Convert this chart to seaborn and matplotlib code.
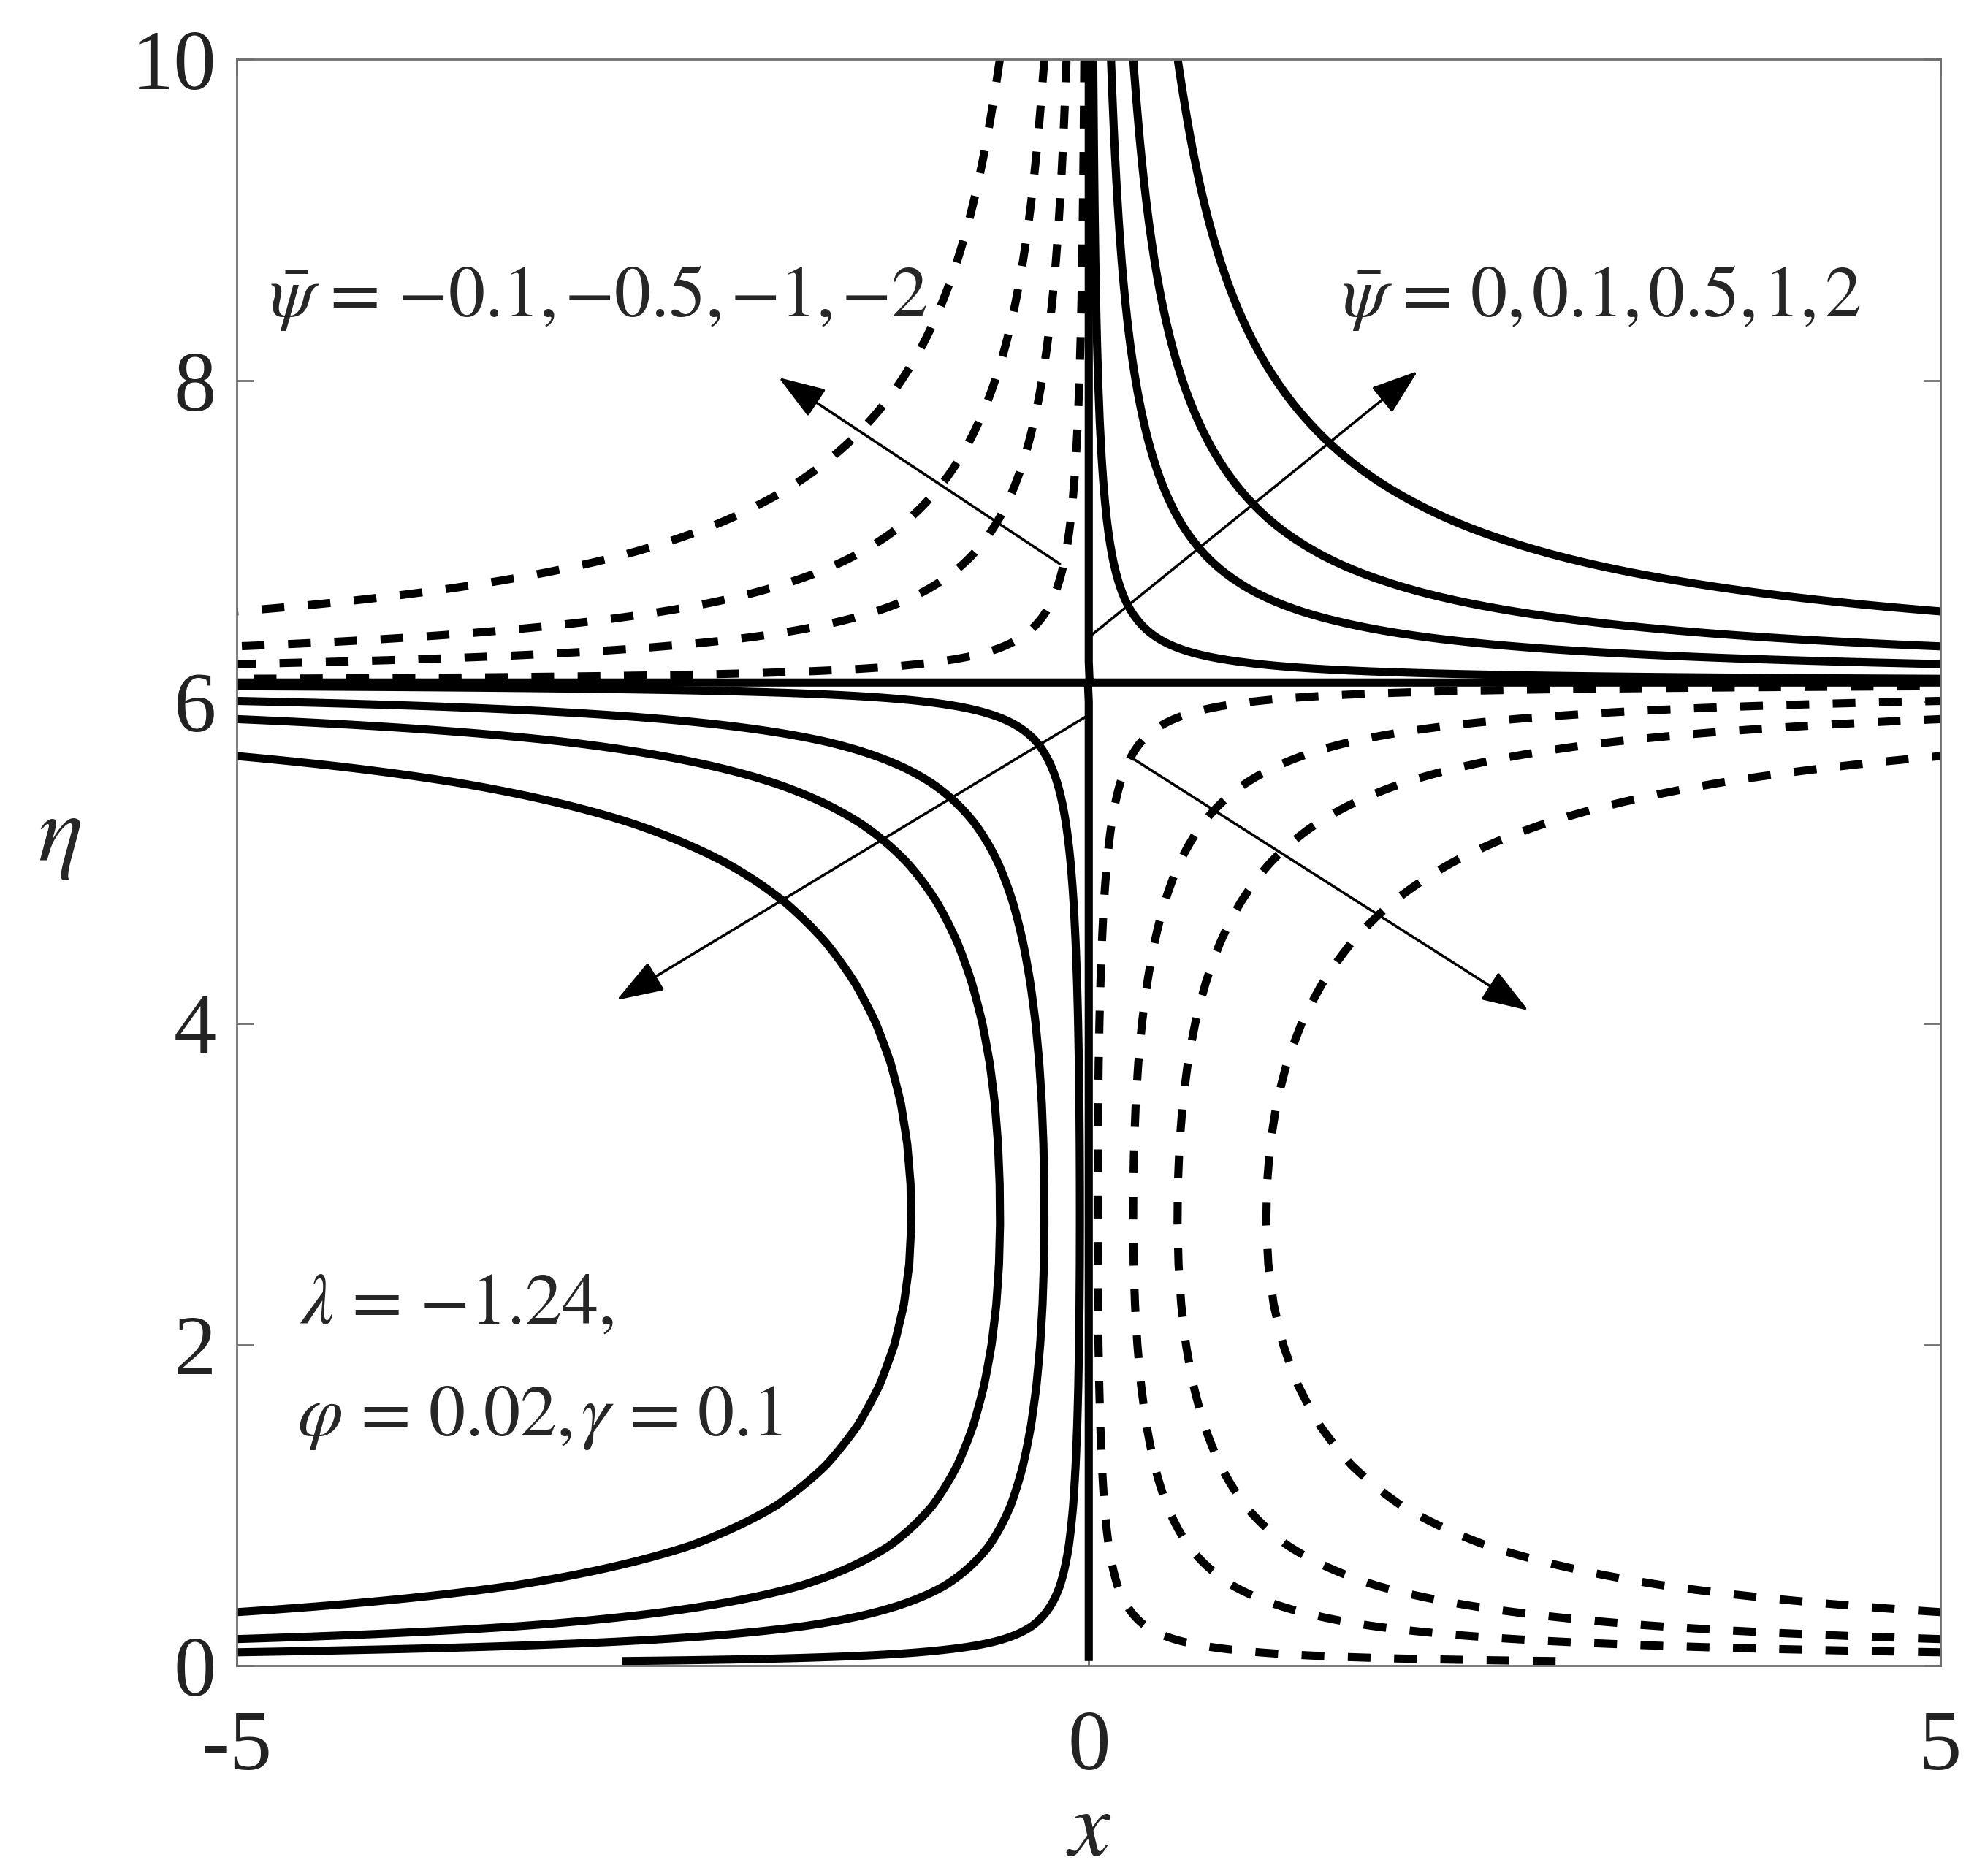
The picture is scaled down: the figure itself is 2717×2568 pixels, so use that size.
import numpy as np
import seaborn as sns
import matplotlib.pyplot as plt

eta = [0.03, 0.10, 0.25, 0.50, 0.75, 1.00, 1.25, 1.50, 1.75, 2.00, 2.25,
       2.50, 2.75, 3.00, 3.25, 3.50, 3.75, 4.00, 4.25, 4.50, 4.75, 5.00,
       5.25, 5.50, 5.75, 6.00, 6.25, 6.50, 6.75, 7.00, 7.25, 7.50, 7.75,
       8.00, 8.25, 8.50, 8.75, 9.00, 9.25, 9.50, 9.75, 10.0]
f_eta = [-0.0365, -0.118, -0.302, -0.592, -0.857, -1.092, -1.297, -1.477, -1.630, -1.753, -1.843,
         -1.898, -1.920, -1.912, -1.877, -1.814, -1.721, -1.601, -1.458, -1.298, -1.124, -0.938,
         -0.742, -0.538, -0.327, -0.106, 0.112, 0.340, 0.574, 0.812, 1.054, 1.302, 1.556,
         1.816, 2.078, 2.338, 2.594, 2.846, 3.094, 3.339, 3.581, 3.830]
psi_levels = [-2, -1, -0.5, -0.1, 0, 0.1, 0.5, 1, 2]

x_ticks = [-5, 0, 5]
x_ticklabels = ["-5", "0", "5"]
y_ticks = [0, 2, 4, 6, 8, 10]

# arrows: (start, tip) in data coords
arrows = [((-0.17, 6.86), (-1.82, 8.02)),
          ((0.02, 6.42), (1.93, 8.06)),
          ((-0.015, 5.91), (-2.77, 4.145)),
          ((0.256, 5.65), (2.58, 4.08))]

sns.set_theme(style="ticks")
plt.rcParams["font.family"] = ["Liberation Serif", "DejaVu Serif"]
plt.rcParams["mathtext.fontset"] = "stix"
plt.rcParams["axes.unicode_minus"] = False
plt.rcParams["lines.dashed_pattern"] = [2.8, 2.9]

fig = plt.figure(figsize=(13.585, 12.84), dpi=200)
ax = fig.add_axes([0.1193, 0.1120, 0.8584, 0.8563])

x_grid = np.linspace(-5, 5, 1000)
X, F = np.meshgrid(x_grid, np.array(f_eta))
psi = X * F
ax.contour(x_grid, eta, psi, levels=psi_levels, colors="black", linewidths=4.0)

for start, tip in arrows:
    ax.annotate("", xy=tip, xytext=start,
                arrowprops=dict(arrowstyle="-|>,head_length=2.0,head_width=0.7",
                                mutation_scale=10, lw=1.3, color="black",
                                shrinkA=0, shrinkB=0))

eq = r"\hspace{0.14}=\hspace{0.14}"
cm = r"{,}\hspace{0.12}"
ax.text(-4.807, 8.40, r"$\bar{\psi}" + eq + "{-0.1}" + cm + "{-0.5}" + cm + "{-1}" + cm + "{-2}$",
        fontsize=36, ha="left", va="baseline")
ax.text(1.487, 8.40, r"$\bar{\psi}" + eq + "0" + cm + "0.1" + cm + "0.5" + cm + "1" + cm + "2$",
        fontsize=36, ha="left", va="baseline")
ax.text(-4.631, 2.131, r"$\lambda" + eq + "{-1.24}{,}$", fontsize=36, ha="left", va="baseline")
ax.text(-4.645, 1.434, r"$\varphi" + eq + "0.02" + cm + r"\gamma" + eq + "0.1$",
        fontsize=36, ha="left", va="baseline")

ax.set_xlim(-5, 5)
ax.set_ylim(0, 10)
ax.set_xticks(x_ticks)
ax.set_xticklabels(x_ticklabels)
ax.set_yticks(y_ticks)
ax.tick_params(direction="in", length=8.4, width=1.0, color="#707070",
               top=True, right=True, labelsize=42, labelcolor="#222222")
ax.tick_params(axis="x", pad=22)
ax.tick_params(axis="y", pad=10)
for sp in ax.spines.values():
    sp.set_color("#707070")
    sp.set_linewidth(1.0)

ax.set_xlabel(r"$x$", fontsize=46)
ax.xaxis.set_label_coords(0.5, -0.104)
ax.xaxis.label.set_va("center")
ax.set_ylabel(r"$\eta$", fontsize=46, rotation=0)
ax.yaxis.set_label_coords(-0.104, 0.515)
ax.yaxis.label.set_va("center")
ax.yaxis.label.set_ha("center")

fig.savefig("out.png", dpi=200)
